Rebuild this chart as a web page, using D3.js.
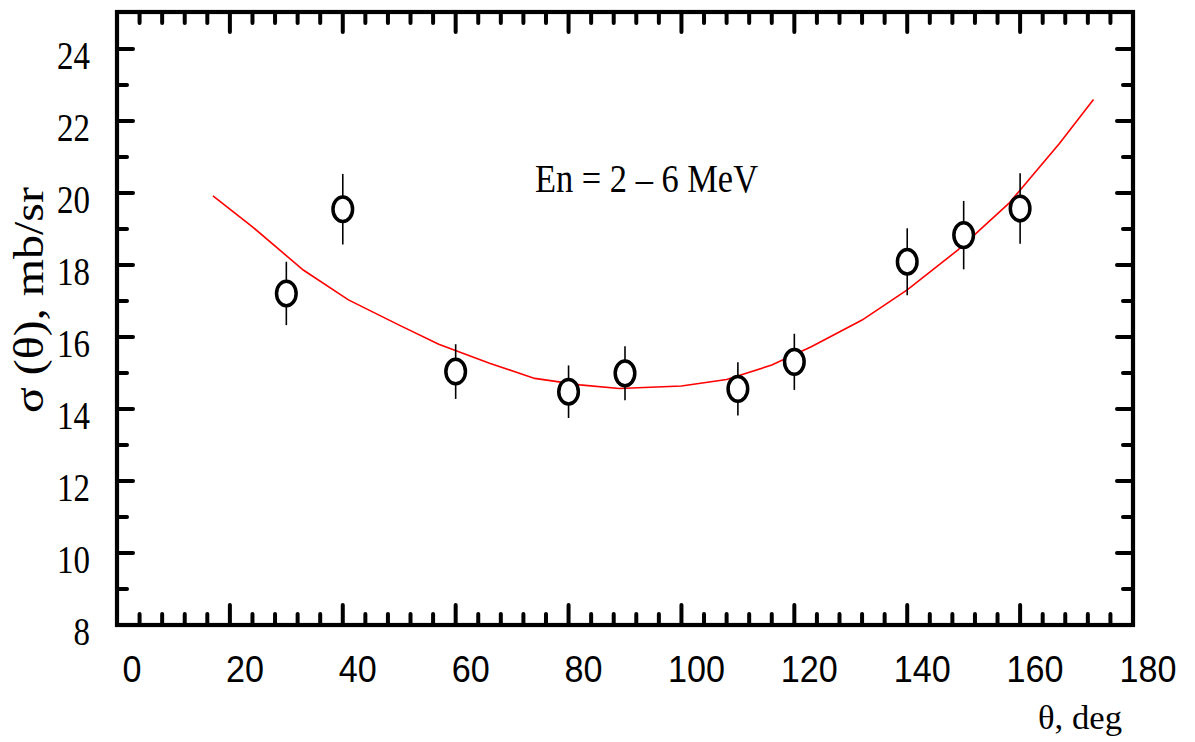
<!DOCTYPE html>
<html>
<head>
<meta charset="utf-8">
<title>sigma(theta)</title>
<script src="https://cdn.jsdelivr.net/npm/d3@7"></script>
<style>
    body { margin: 0; background: #ffffff; }
    svg { display: block; }
</style>
</head>
<body>
<div id="d3-content"></div>
<script>

// --- Daten ------------------------------------------------------------------------------------------ //

var arrTheta = [30, 40, 60, 80, 90, 110, 120, 140, 150, 160];
var arrSigma = [17.21, 19.55, 15.04, 14.48, 14.99, 14.56, 15.31, 18.09, 18.83, 19.57];
var arrError = [0.88, 0.98, 0.76, 0.73, 0.75, 0.74, 0.78, 0.93, 0.95, 0.98];

var arrFitTheta = [17, 24, 33, 41, 50, 57, 66, 74, 82, 89, 100, 108, 116, 123, 132, 140, 149, 158, 167, 173];
var arrFitSigma = [19.92, 19.06, 17.86, 17.03, 16.33, 15.80, 15.27, 14.85, 14.67, 14.57, 14.64, 14.82, 15.22, 15.73, 16.47, 17.31, 18.42, 19.71, 21.38, 22.60];

var arrXTicks = [0, 20, 40, 60, 80, 100, 120, 140, 160, 180];
var arrYTicks = [8, 10, 12, 14, 16, 18, 20, 22, 24];

var titleText = 'En = 2 \u2013 6 MeV';
var xLabelText = '\u03b8, deg';
var yLabelText = '\u03c3 (\u03b8), mb/sr';


// --- Chart ------------------------------------------------------------------------------------------ //

function drawChart() {

    var W = 1195, H = 742;
    var left = 117, right = 1133, top = 12, bottom = 625;
    var serif = "'Liberation Serif', 'Times New Roman', serif";

    var svg = d3.select('#d3-content').append('svg')
        .attr('width', W)
        .attr('height', H);

    var x = d3.scaleLinear().domain([0, 180]).range([left, right]);
    var y = d3.scaleLinear().domain([8, 24]).range([bottom, 49]);

    var minorX = d3.range(4, 180, 4).filter(function (d) { return d % 20 != 0; });
    var minorY = d3.range(9, 25, 2);

    var ticks = svg.append('g')
        .attr('stroke', '#000')
        .attr('stroke-width', 4)
        .attr('stroke-linecap', 'round');

    // bottom + top ticks
    arrXTicks.forEach(function (d) {
        ticks.append('line').attr('x1', x(d)).attr('x2', x(d)).attr('y1', bottom).attr('y2', bottom - 20);
        ticks.append('line').attr('x1', x(d)).attr('x2', x(d)).attr('y1', top).attr('y2', top + 20);
    });
    minorX.forEach(function (d) {
        ticks.append('line').attr('x1', x(d)).attr('x2', x(d)).attr('y1', bottom).attr('y2', bottom - 11);
        ticks.append('line').attr('x1', x(d)).attr('x2', x(d)).attr('y1', top).attr('y2', top + 11);
    });

    // left + right ticks
    arrYTicks.forEach(function (d) {
        ticks.append('line').attr('x1', left).attr('x2', left + 16).attr('y1', y(d)).attr('y2', y(d));
        ticks.append('line').attr('x1', right).attr('x2', right - 16).attr('y1', y(d)).attr('y2', y(d));
    });
    minorY.forEach(function (d) {
        ticks.append('line').attr('x1', left).attr('x2', left + 10).attr('y1', y(d)).attr('y2', y(d));
        ticks.append('line').attr('x1', right).attr('x2', right - 10).attr('y1', y(d)).attr('y2', y(d));
    });

    // Rahmen
    svg.append('rect')
        .attr('x', left)
        .attr('y', top)
        .attr('width', right - left)
        .attr('height', bottom - top)
        .attr('fill', 'none')
        .attr('stroke', '#000')
        .attr('stroke-width', 4.2);

    // tick labels x (sans, leicht nach rechts versetzt wie im Original)
    svg.append('g').selectAll('text')
        .data(arrXTicks)
        .enter().append('text')
        .attr('x', function (d) { return x(d) + 15; })
        .attr('y', 682)
        .attr('text-anchor', 'middle')
        .attr('font-family', "'Liberation Sans', Arial, sans-serif")
        .attr('font-size', 37)
        .attr('textLength', function (d) { return String(d).length * 19; })
        .attr('lengthAdjust', 'spacingAndGlyphs')
        .text(function (d) { return d; });

    // tick labels y (serif)
    svg.append('g').selectAll('text')
        .data(arrYTicks)
        .enter().append('text')
        .attr('x', 90)
        .attr('y', function (d) { return y(d) + 20; })
        .attr('text-anchor', 'end')
        .attr('font-family', serif)
        .attr('font-size', 41)
        .attr('textLength', function (d) { return String(d).length * 16.5; })
        .attr('lengthAdjust', 'spacingAndGlyphs')
        .text(function (d) { return d; });

    // Achsentitel
    svg.append('text')
        .attr('x', 1038)
        .attr('y', 729)
        .attr('font-family', serif)
        .attr('font-size', 34)
        .attr('textLength', 84)
        .attr('lengthAdjust', 'spacingAndGlyphs')
        .text(xLabelText);

    svg.append('text')
        .attr('transform', 'translate(43,413) rotate(-90)')
        .attr('font-family', serif)
        .attr('font-size', 42)
        .attr('textLength', 226)
        .attr('lengthAdjust', 'spacingAndGlyphs')
        .text(yLabelText);

    svg.append('text')
        .attr('x', 535)
        .attr('y', 192)
        .attr('font-family', serif)
        .attr('font-size', 40)
        .attr('textLength', 223)
        .attr('lengthAdjust', 'spacingAndGlyphs')
        .text(titleText);

    // Fit-Kurve
    var line = d3.line()
        .x(function (d, i) { return x(arrFitTheta[i]); })
        .y(function (d) { return y(d); });

    svg.append('path')
        .datum(arrFitSigma)
        .attr('d', line)
        .attr('fill', 'none')
        .attr('stroke', '#ff0000')
        .attr('stroke-width', 1.6);

    // Messpunkte mit Fehlerbalken
    var pts = svg.append('g').selectAll('g')
        .data(arrTheta)
        .enter().append('g');

    pts.append('line')
        .attr('x1', function (d) { return x(d); })
        .attr('x2', function (d) { return x(d); })
        .attr('y1', function (d, i) { return y(arrSigma[i] - arrError[i]); })
        .attr('y2', function (d, i) { return y(arrSigma[i] + arrError[i]); })
        .attr('stroke', '#000')
        .attr('stroke-width', 1.6);

    pts.append('ellipse')
        .attr('cx', function (d) { return x(d); })
        .attr('cy', function (d, i) { return y(arrSigma[i]); })
        .attr('rx', 9.8)
        .attr('ry', 12.3)
        .attr('fill', '#fff')
        .attr('stroke', '#000')
        .attr('stroke-width', 3.5);
}

drawChart();

</script>
</body>
</html>
